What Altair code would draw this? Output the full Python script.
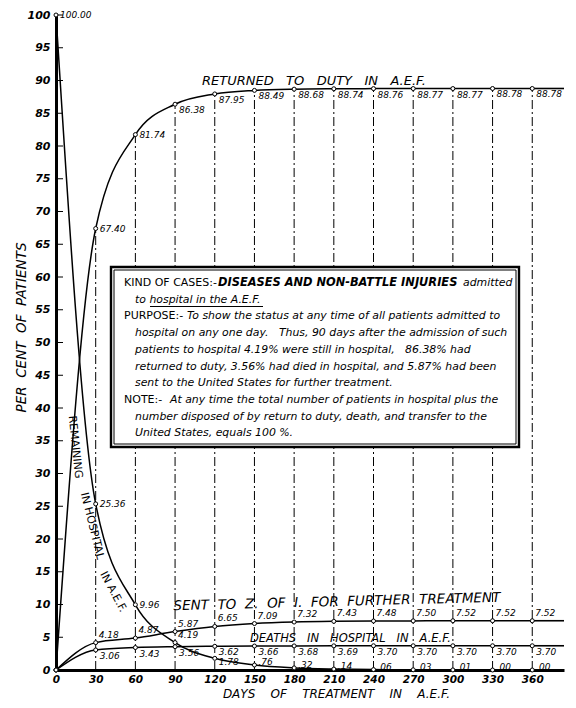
import altair as alt
import pandas as pd

# ---------------- data ----------------
days = [0, 30, 60, 90, 120, 150, 180, 210, 240, 270, 300, 330, 360]
returned = [0.00, 67.40, 81.74, 86.38, 87.95, 88.49, 88.68, 88.74, 88.76, 88.77, 88.77, 88.78, 88.78]
remaining = [100.00, 25.36, 9.96, 4.19, 1.78, 0.76, 0.32, 0.14, 0.06, 0.03, 0.01, 0.00, 0.00]
sent = [0.00, 4.18, 4.87, 5.87, 6.65, 7.09, 7.32, 7.43, 7.48, 7.50, 7.52, 7.52, 7.52]
deaths = [0.00, 3.06, 3.43, 3.56, 3.62, 3.66, 3.68, 3.69, 3.70, 3.70, 3.70, 3.70, 3.70]
x_ticks = days
y_ticks = list(range(0, 101, 5))

# ---------------- layout constants ----------------
FONT = "DejaVu Sans"
X_MAX = 384
W, H = 508, 655
PXD = W / X_MAX          # px per day
PXV = H / 100.0          # px per percent
LEFT_PX, BOTTOM_PX = 56, 670   # page position of plot origin


def px2day(px):
    return (px - LEFT_PX) / PXD


def py2val(py):
    return (BOTTOM_PX - py) / PXV


def nb(s):
    return s.replace(" ", "\u00a0")


series_values = {"returned": returned, "remaining": remaining, "sent": sent, "deaths": deaths}
rows = []
for name, vals in series_values.items():
    for d, v in zip(days, vals):
        rows.append({"series": name, "day": d, "value": v})
curves = pd.DataFrame(rows)


def fmt(v):
    s = f"{v:.2f}"
    return s[1:] if s.startswith("0.") else s


def label_pos(name, d):
    if name == "returned":
        return "A" if d < 90 else "B"
    if name == "remaining":
        if d < 90:
            return "A"
        if d == 90:
            return "C"
        if d == 120:
            return "E"
        return "D"
    if name == "sent":
        return "C"
    return "B"


labels = curves[(curves.day > 0) | (curves.series == "remaining")].copy()
labels["text"] = labels.value.map(fmt)
labels["pos"] = [label_pos(s, d) for s, d in zip(labels.series, labels.day)]

# ---------------- encodings ----------------
x_axis = alt.Axis(values=x_ticks, ticks=False, grid=False, domainWidth=3, domainColor="black",
                  labelFont=FONT, labelFontStyle="italic", labelFontWeight="bold", labelFontSize=10.5,
                  labelColor="black", labelPadding=4, labelFlush=False,
                  title=nb("DAYS    OF    TREATMENT    IN    A.E.F."), titleFont=FONT, titleFontStyle="italic",
                  titleFontWeight="normal", titleFontSize=12, titleColor="black",
                  titleX=280, titleY=23, titleAlign="center", titleBaseline="middle")
y_axis = alt.Axis(values=y_ticks, ticks=False, grid=False, domainWidth=3, domainColor="black",
                  labelFont=FONT, labelFontStyle="italic", labelFontWeight="bold", labelFontSize=11,
                  labelColor="black", labelPadding=6, labelFlush=False,
                  title=nb("PER  CENT  OF  PATIENTS"), titleFont=FONT, titleFontStyle="italic",
                  titleFontWeight="normal", titleFontSize=13.5, titleColor="black",
                  titleX=-35, titleY=312, titleAlign="center", titleBaseline="middle", titleAngle=270)
xs = alt.Scale(domain=[0, X_MAX], nice=False, zero=True)
ys = alt.Scale(domain=[0, 100], nice=False, zero=True)


def X(f):
    return alt.X(f"{f}:Q", scale=xs, axis=x_axis)


def Y(f):
    return alt.Y(f"{f}:Q", scale=ys, axis=y_axis)


# ---------------- layers ----------------
grid_df = pd.DataFrame({"day": days[1:], "top": returned[1:], "base": [0.0] * (len(days) - 1)})
grid = alt.Chart(grid_df).mark_rule(color="black", strokeWidth=1, strokeDash=[9, 3, 2, 3]).encode(
    x=X("day"), y=Y("base"), y2="top:Q")

ext_df = pd.DataFrame({"x0": [days[-1]] * 3, "x1": [X_MAX] * 3,
                       "value": [returned[-1], sent[-1], deaths[-1]]})
ext = alt.Chart(ext_df).mark_rule(color="black", strokeWidth=1.6).encode(
    x=X("x0"), x2="x1:Q", y=Y("value"))

# explanatory box
bx0, bx1, by0, by1 = px2day(111), px2day(519), py2val(447), py2val(267)
ix, iy = 3 / PXD, 3 / PXV
box_df = pd.DataFrame({"x0": [bx0], "x1": [bx1], "y0": [by0], "y1": [by1]})
inner_df = pd.DataFrame({"x0": [bx0 + ix], "x1": [bx1 - ix], "y0": [by0 + iy], "y1": [by1 - iy]})
box = alt.Chart(box_df).mark_rect(fill="white", stroke="black", strokeWidth=2.4).encode(
    x=X("x0"), x2="x1:Q", y=Y("y0"), y2="y1:Q")
inner = alt.Chart(inner_df).mark_rect(fillOpacity=0, stroke="black", strokeWidth=1).encode(
    x=X("x0"), x2="x1:Q", y=Y("y0"), y2="y1:Q")

box_lines = [
    (0, 13, "caps", "KIND OF CASES:-"),
    (0, 107, "bold", "DISEASES AND NON-BATTLE INJURIES"),
    (0, 352, "it", "admitted"),
    (1, 24, "it", "to hospital in the A.E.F."),
    (2, 13, "caps", "PURPOSE:-"),
    (2, 76, "it", "To show the status at any time of all patients admitted to"),
    (3, 24, "it", "hospital on any one day.   Thus, 90 days after the admission of such"),
    (4, 24, "it", "patients to hospital 4.19% were still in hospital,   86.38% had"),
    (5, 24, "it", "returned to duty, 3.56% had died in hospital, and 5.87% had been"),
    (6, 24, "it", "sent to the United States for further treatment."),
    (7, 13, "caps", "NOTE:-"),
    (7, 59, "it", "At any time the total number of patients in hospital plus the"),
    (8, 24, "it", "number disposed of by return to duty, death, and transfer to the"),
    (9, 24, "it", "United States, equals 100 %."),
]
bt = pd.DataFrame([{"x": px2day(111 + ind), "y": py2val(267 + 16 + 16.7 * ln), "text": nb(t), "style": st}
                   for ln, ind, st, t in box_lines])
box_caps = alt.Chart(bt[bt["style"] == "caps"]).mark_text(
    font=FONT, fontSize=11, align="left", baseline="middle", color="black").encode(
    x=X("x"), y=Y("y"), text="text:N")
box_it = alt.Chart(bt[bt["style"] == "it"]).mark_text(
    font=FONT, fontSize=10.9, fontStyle="italic", align="left", baseline="middle", color="black").encode(
    x=X("x"), y=Y("y"), text="text:N")
box_bold = alt.Chart(bt[bt["style"] == "bold"]).mark_text(
    font=FONT, fontSize=11.4, fontStyle="italic", fontWeight="bold", align="left", baseline="middle",
    color="black").encode(x=X("x"), y=Y("y"), text="text:N")
ul_df = pd.DataFrame({"x0": [px2day(150)], "x1": [px2day(263)], "y": [py2val(306.5)]})
underline = alt.Chart(ul_df).mark_rule(color="black", strokeWidth=1).encode(
    x=X("x0"), x2="x1:Q", y=Y("y"))

# y-axis inner tick marks
yt_df = pd.DataFrame({"y": y_ticks, "x0": [0] * len(y_ticks), "x1": [7 / PXD] * len(y_ticks)})
yticks = alt.Chart(yt_df).mark_rule(color="black", strokeWidth=1).encode(
    x=X("x0"), x2="x1:Q", y=Y("y"))

lines = alt.Chart(curves).mark_line(color="black", strokeWidth=1.5, interpolate="monotone").encode(
    x=X("day"), y=Y("value"), detail="series:N")
points = alt.Chart(curves).mark_point(shape="circle", size=16, filled=True, fill="white", stroke="black",
                                      strokeWidth=1, opacity=1).encode(x=X("day"), y=Y("value"))

pos_style = {
    "A": dict(baseline="middle", dx=4, dy=0),
    "B": dict(baseline="top", dx=4, dy=2),
    "C": dict(baseline="bottom", dx=3, dy=-3),
    "D": dict(baseline="middle", dx=4, dy=-3),
    "E": dict(baseline="top", dx=4, dy=0),
}
label_layers = []
for p, kw in pos_style.items():
    label_layers.append(
        alt.Chart(labels[labels["pos"] == p]).mark_text(
            font=FONT, fontSize=9, fontStyle="italic", align="left", color="black", **kw).encode(
            x=X("day"), y=Y("value"), text="text:N"))

# series titles
ret_t = alt.Chart(pd.DataFrame({"x": [px2day(202)], "y": [89.3], "text": [nb("RETURNED   TO   DUTY   IN   A.E.F.")]})
                  ).mark_text(font=FONT, fontSize=13, fontStyle="italic", align="left", baseline="alphabetic",
                              color="black").encode(x=X("x"), y=Y("y"), text="text:N")
sent_t = alt.Chart(pd.DataFrame({"x": [px2day(337)], "y": [py2val(606)],
                                 "text": [nb("SENT  TO  Z.  OF  I.  FOR  FURTHER  TREATMENT")]})
                   ).mark_text(font=FONT, fontSize=13.5, fontStyle="italic", align="center", baseline="alphabetic",
                               angle=358.5, color="black").encode(x=X("x"), y=Y("y"), text="text:N")
death_t = alt.Chart(pd.DataFrame({"x": [px2day(250)], "y": [py2val(642)],
                                  "text": [nb("DEATHS   IN   HOSPITAL   IN   A.E.F.")]})
                    ).mark_text(font=FONT, fontSize=11.5, fontStyle="italic", align="left", baseline="alphabetic",
                                color="black").encode(x=X("x"), y=Y("y"), text="text:N")
rem_df = pd.DataFrame({
    "x": [px2day(75), px2day(92), px2day(113)],
    "y": [py2val(447), py2val(526), py2val(592)],
    "text": ["REMAINING", nb("IN HOSPITAL"), nb("IN A.E.F.")],
    "angle": [84, 76, 62],
})
rem_t = alt.Chart(rem_df).mark_text(font=FONT, fontSize=11, align="center", baseline="middle",
                                    color="black").encode(
    x=X("x"), y=Y("y"), text="text:N", angle=alt.Angle("angle:Q", scale=None))

chart = alt.layer(
    grid, box, inner, box_caps, box_it, box_bold, underline, yticks, ext, lines, points,
    *label_layers, ret_t, sent_t, death_t, rem_t
).properties(
    width=W, height=H,
    autosize=alt.AutoSizeParams(type="none"),
    padding={"left": 48, "top": 7, "right": 4, "bottom": 32},
    background="white",
).configure_view(stroke=None)

chart.save("out.html", embed_options={"renderer": "svg", "actions": False})
